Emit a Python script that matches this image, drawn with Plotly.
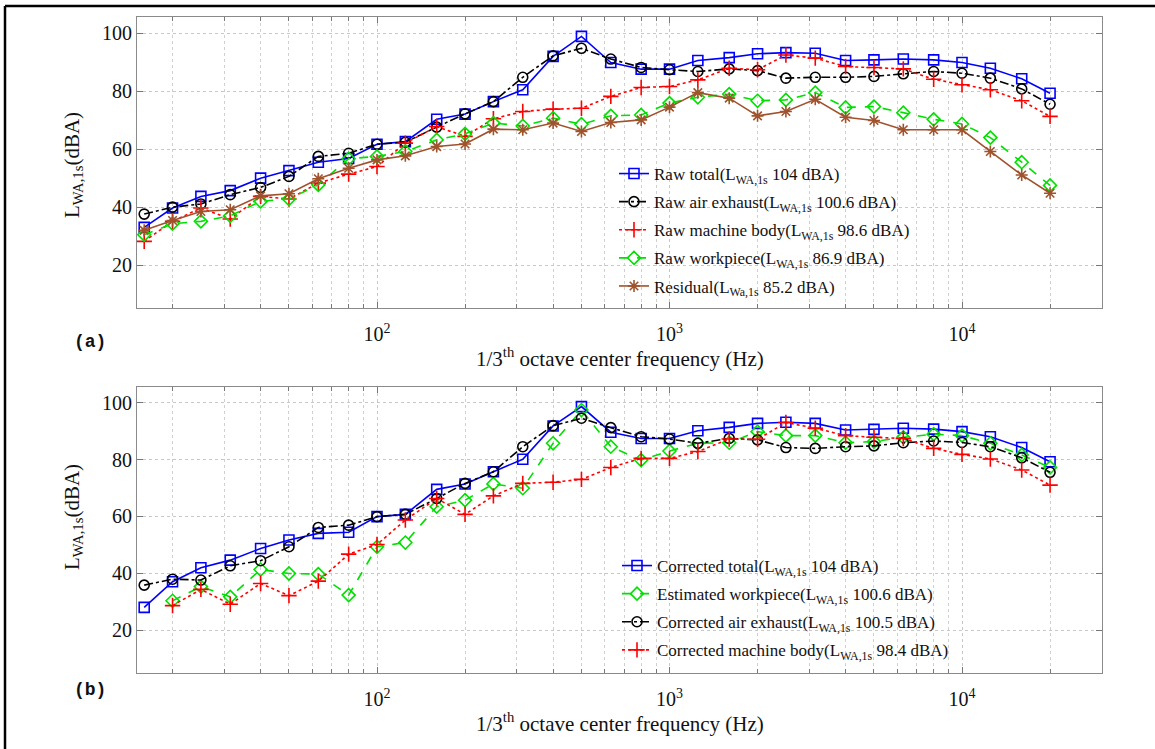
import plotly.graph_objects as go

W, H = 1155, 749

freqs = [16, 20, 25, 31.5, 40, 50, 63, 80, 100, 125, 160, 200, 250, 315, 400, 500, 630, 800,
         1000, 1250, 1600, 2000, 2500, 3150, 4000, 5000, 6300, 8000, 10000, 12500, 16000, 20000]

# Panel (a)
raw_total = [33.0, 39.7, 43.7, 45.7, 50.0, 52.6, 55.5, 56.8, 61.7, 62.6, 70.3, 72.1, 76.4, 80.5, 92.0, 98.9,
             89.9, 87.6, 87.6, 90.6, 91.6, 92.9, 93.3, 93.1, 90.6, 90.8, 91.1, 90.8, 89.9, 87.9, 84.3, 79.3]
raw_air = [37.6, 40.0, 41.1, 44.3, 46.8, 50.6, 57.5, 58.6, 61.7, 62.4, 67.6, 72.2, 76.4, 84.8, 92.2, 94.8,
           91.1, 88.2, 87.4, 86.8, 87.7, 87.1, 84.5, 84.8, 84.8, 85.1, 86.0, 86.8, 86.2, 84.5, 80.8, 75.5]
raw_machine = [28.2, 35.1, 39.7, 35.9, 43.7, 42.8, 48.3, 51.4, 54.0, 62.1, 67.8, 64.4, 70.5, 73.0, 73.8, 74.1,
               78.2, 81.3, 81.6, 83.9, 87.9, 87.4, 92.5, 91.4, 88.5, 88.2, 87.7, 84.1, 82.2, 80.5, 76.7, 71.3]
raw_workpiece = [30.5, 34.3, 35.1, 37.0, 42.0, 42.8, 47.7, 56.7, 57.5, 59.2, 63.2, 65.3, 69.0, 68.0, 70.7, 68.6,
                 71.5, 71.8, 75.9, 77.9, 79.0, 76.7, 77.0, 79.5, 74.4, 74.7, 72.6, 70.3, 68.7, 64.0, 55.5, 47.5]
residual = [32.0, 35.4, 38.5, 39.1, 43.9, 44.6, 49.8, 53.4, 56.3, 57.7, 60.9, 61.8, 66.9, 66.7, 69.0, 66.1,
            69.2, 70.1, 74.5, 79.5, 77.6, 71.5, 73.0, 77.2, 71.0, 69.9, 66.7, 66.7, 66.7, 59.2, 51.1, 44.8]

# Panel (b)
corr_total = [28.0, 37.0, 41.9, 44.6, 48.7, 51.7, 54.0, 54.4, 59.9, 60.7, 69.5, 71.4, 75.7, 80.1, 91.8, 98.6,
              89.6, 87.4, 87.4, 90.1, 91.3, 92.7, 93.1, 92.7, 90.4, 90.6, 91.0, 90.7, 89.8, 88.0, 84.2, 79.2]
est_workpiece = [None, 30.3, 35.3, 31.7, 41.3, 39.9, 39.7, 32.3, 49.3, 50.8, 63.4, 65.7, 71.4, 69.9, 85.7, 97.4,
                 84.5, 79.8, 83.0, 85.7, 85.9, 89.8, 88.4, 88.4, 85.9, 86.3, 87.8, 88.9, 88.4, 85.7, 81.6, 77.2]
corr_air = [35.8, 37.9, 37.6, 42.6, 44.4, 49.3, 56.1, 56.9, 59.9, 60.7, 66.3, 71.6, 75.7, 84.5, 91.9, 94.5,
            91.2, 88.0, 87.2, 85.7, 87.4, 86.9, 84.2, 83.9, 84.5, 84.8, 85.9, 86.5, 86.0, 84.5, 80.6, 75.5]
corr_machine = [None, 28.6, 34.3, 29.1, 36.4, 32.1, 37.2, 46.7, 50.1, 58.7, 66.3, 60.7, 67.2, 71.6, 72.0, 73.0,
                77.2, 80.4, 80.4, 82.8, 87.2, 87.1, 93.0, 91.0, 88.4, 87.8, 87.4, 83.9, 81.8, 80.2, 76.3, 71.0]

names_a = ["Raw total(L<sub>WA,1s</sub> 104 dBA)", "Raw air exhaust(L<sub>WA,1s</sub> 100.6 dBA)",
           "Raw machine body(L<sub>WA,1s</sub> 98.6 dBA)", "Raw workpiece(L<sub>WA,1s</sub> 86.9 dBA)",
           "Residual(L<sub>Wa,1s</sub> 85.2 dBA)"]
names_b = ["Corrected total(L<sub>WA,1s</sub> 104 dBA)", "Estimated workpiece(L<sub>WA,1s</sub> 100.6 dBA)",
           "Corrected air exhaust(L<sub>WA,1s</sub> 100.5 dBA)", "Corrected machine body(L<sub>WA,1s</sub> 98.4 dBA)"]

x_major = [100, 1000, 10000]
x_major_text = ["10<sup>2</sup>", "10<sup>3</sup>", "10<sup>4</sup>"]
y_ticks = [20, 40, 60, 80, 100]

BLUE, BLACK, RED, GREEN, BROWN = "#0000FF", "#000000", "#FF0000", "#00E000", "#A0522D"
SERIF = "Liberation Serif, Times New Roman, serif"

styles = {
    "total": dict(color=BLUE, dash="solid", symbol="square-open"),
    "air": dict(color=BLACK, dash="dashdot", symbol="circle-open"),
    "machine": dict(color=RED, dash="dot", symbol="cross-thin-open"),
    "work": dict(color=GREEN, dash="dash", symbol="diamond-open"),
    "resid": dict(color=BROWN, dash="solid", symbol="asterisk-open"),
}

fig = go.Figure()


def add(y, name, st, xa, ya, leg, grp):
    s = styles[st]
    fig.add_trace(go.Scatter(
        x=freqs, y=y, name=name, mode="lines+markers", xaxis=xa, yaxis=ya, legend=leg,
        legendgroup=grp,
        line=dict(color=s["color"], dash=s["dash"], width=1.6),
        marker=dict(symbol=s["symbol"], size=10 if st != "machine" else 11,
                    color=s["color"], line=dict(color=s["color"], width=1.6)),
        connectgaps=False,
    ))


add(raw_total, names_a[0], "total", "x", "y", "legend", "a1")
add(raw_air, names_a[1], "air", "x", "y", "legend", "a2")
add(raw_machine, names_a[2], "machine", "x", "y", "legend", "a3")
add(raw_workpiece, names_a[3], "work", "x", "y", "legend", "a4")
add(residual, names_a[4], "resid", "x", "y", "legend", "a5")

add(corr_total, names_b[0], "total", "x2", "y2", "legend2", "b1")
add(est_workpiece, names_b[1], "work", "x2", "y2", "legend2", "b2")
add(corr_air, names_b[2], "air", "x2", "y2", "legend2", "b3")
add(corr_machine, names_b[3], "machine", "x2", "y2", "legend2", "b4")

left, right = 137 / W, 1102 / W
dom_a = [1 - 308 / H, 1 - 17 / H]
dom_b = [1 - 673 / H, 1 - 387 / H]

minor_vals = [m * 10 ** e for e in range(1, 5) for m in range(2, 10)]

xcommon = dict(
    type="log", range=[1.1795, 4.4786], tickvals=x_major, ticktext=x_major_text,
    ticks="inside", ticklen=6, tickcolor="#777", showline=True, linecolor="#8a8a8a", linewidth=1,
    mirror="allticks", showgrid=True, gridcolor="#c8c8c8", griddash="dot", gridwidth=1,
    tickfont=dict(family=SERIF, size=20, color="#111"), zeroline=False, automargin=False,
    ticklabelstandoff=8,
    minor=dict(tickvals=minor_vals, ticks="inside", ticklen=4, tickcolor="#777",
               showgrid=True, gridcolor="#d0d0d0", griddash="dot", gridwidth=1),
)
ycommon = dict(
    tickvals=y_ticks, ticks="inside", ticklen=6, tickcolor="#777", showline=True, linecolor="#8a8a8a",
    linewidth=1, mirror="allticks", showgrid=True, gridcolor="#c8c8c8", griddash="dot", gridwidth=1,
    tickfont=dict(family=SERIF, size=20, color="#111"), zeroline=False, automargin=False,
)

fig.update_layout(
    width=W, height=H, margin=dict(l=0, r=0, t=0, b=0),
    paper_bgcolor="white", plot_bgcolor="white",
    xaxis=dict(domain=[left, right], anchor="y", **xcommon),
    yaxis=dict(domain=dom_a, anchor="x", range=[5.2, 105.6], **ycommon),
    xaxis2=dict(domain=[left, right], anchor="y2", **xcommon),
    yaxis2=dict(domain=dom_b, anchor="x2", range=[4.9, 105.5], **ycommon),
    legend=dict(x=614 / W, y=1 - 156 / H, xanchor="left", yanchor="top", bgcolor="rgba(0,0,0,0)",
                font=dict(family=SERIF, size=17, color="#111"), tracegroupgap=3, itemwidth=30),
    legend2=dict(x=617 / W, y=1 - 548 / H, xanchor="left", yanchor="top", bgcolor="rgba(0,0,0,0)",
                 font=dict(family=SERIF, size=17, color="#111"), tracegroupgap=3, itemwidth=30),
    showlegend=True,
)

ann_font = dict(family=SERIF, size=21, color="#111")
for ycen in [358, 722]:
    fig.add_annotation(x=(137 + 1102) / 2 / W, y=1 - ycen / H, xref="paper", yref="paper",
                       text="1/3<sup>th</sup> octave center frequency (Hz)", showarrow=False,
                       font=ann_font, xanchor="center", yanchor="middle")
for ycen in [165, 517]:
    fig.add_annotation(x=73 / W, y=1 - ycen / H, xref="paper", yref="paper",
                       text="L<sub>WA,1s</sub>(dBA)", showarrow=False, textangle=-90,
                       font=ann_font, xanchor="center", yanchor="middle")
for lab, ycen in [("(a)", 342), ("(b)", 690)]:
    fig.add_annotation(x=90 / W, y=1 - ycen / H, xref="paper", yref="paper", text="<b>" + lab + "</b>",
                       showarrow=False, font=dict(family="Liberation Mono, Courier New, monospace",
                                                  size=18, color="#111"),
                       xanchor="center", yanchor="middle")

# outer frame lines (top and left)
fig.add_shape(type="line", xref="paper", yref="paper", x0=5 / W, x1=1, y0=1 - 6 / H, y1=1 - 6 / H,
              line=dict(color="black", width=2.5))
fig.add_shape(type="line", xref="paper", yref="paper", x0=5 / W, x1=5 / W, y0=0, y1=1 - 6 / H,
              line=dict(color="black", width=2.5))

fig.write_html("out.html")
